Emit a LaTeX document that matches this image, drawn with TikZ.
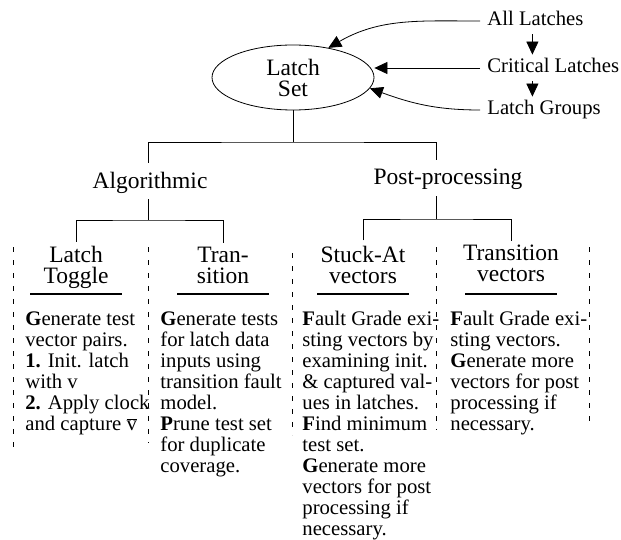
\documentclass[tikz,border=0pt]{standalone}
\usepackage{fontspec}
\setmainfont{Liberation Serif}
\usetikzlibrary{arrows.meta,shapes.geometric}
\tikzset{
  hdr/.style={font=\fontsize{23.5}{21}\selectfont, align=center, inner sep=0pt},
  lbl/.style={font=\fontsize{20.7}{21}\selectfont, anchor=base west, inner xsep=7pt, inner ysep=3pt, text height=15pt, text depth=5pt},
  body/.style={font=\fontsize{20.7}{21}\selectfont, align=left, anchor=north west, inner sep=0pt},
  tri/.style={-{Triangle[length=13pt,width=12pt]}},
  colsep/.style={dash pattern=on 5pt off 8pt},
  uline/.style={line width=2.8pt},
}

\begin{document}
\begin{tikzpicture}[x=1pt, y=-1pt, line width=0.8pt]
  \useasboundingbox (0,0) rectangle (621,540);
  \node[hdr, ellipse, draw, minimum width=162pt, minimum height=65pt] (set) at (293,77.5) {Latch\\Set};
  \node[lbl] (all)  at (480,26)  {All Latches};
  \node[lbl] (crit) at (480,73)  {Critical Latches};
  \node[lbl] (grp)  at (480,115) {Latch Groups};
  \draw[tri] (all.west) to[out=180,in=30] (set.40);
  \draw[tri] (crit.west) -- (crit.west -| set.east);
  \draw[tri] (grp.west) to[out=180,in=-20] (set.-8);
  \draw[tri] ([xshift=-3pt]all.south) -- ([xshift=-3pt]all.south |- crit.north);
  \draw[tri] ([xshift=-3pt]all.south |- crit.south) -- ([xshift=-3pt]all.south |- grp.north);
  % tree
  \node[hdr] (algo) at (150,183) {Algorithmic};
  \node[hdr] (post) at (448,179) {Post-processing};
  \coordinate (fork) at (293,142);
  \coordinate (afork) at (148,220);
  \coordinate (pfork) at (436,219);
  \draw (set) -- (fork);
  \draw ([xshift=-2pt,yshift=9pt]algo.north) |- (fork) -| ([xshift=-12pt,yshift=8pt]post.north);
  \node[hdr] (lt) at (76,267.5)  {Latch\\Toggle};
  \node[hdr] (tr) at (223,265.5) {Tran-\\sition};
  \node[hdr] (st) at (363,264.5) {Stuck-At\\vectors};
  \node[hdr] (tv) at (511,263.5) {Transition\\vectors};
  \draw ([xshift=-2pt,yshift=-5pt]algo.south) -- (afork);
  \draw ([xshift=-12pt,yshift=-6.5pt]post.south) -- (pfork);
  \draw ([yshift=4pt]lt.north) |- (afork) -| ([yshift=4pt]tr.north);
  \draw ([yshift=5pt]st.north) |- (pfork) -| ([yshift=4pt]tv.north);
  \foreach \x in {76,223,363,511}
    \draw[uline] (\x-46,294) -- (\x+46,294);
  % column separators
  \foreach \x/\y/\b in {13/247/447, 148/247/443, 292/253/435, 436/247/430, 589/247/428}
    \draw[colsep] (\x,\y) -- (\x,\b);
  % column texts
  \node[body] (ltx) at (25,311) {\textbf{G}enerate test\\vector pairs.\\\textbf{1.} Init. latch\\with v\\\textbf{2.} Apply clock\\and capture $\overline{\mbox{v}}$};
  \node[body] (trx) at (160,311) {\textbf{G}enerate tests\\for latch data\\inputs using\\transition fault\\model.\\\textbf{P}rune test set\\for duplicate\\coverage.};
  \node[body] (stx) at (302,311) {\textbf{F}ault Grade exi-\\sting vectors by\\examining init.\\\& captured val-\\ues in latches.\\\textbf{F}ind minimum\\test set.\\\textbf{G}enerate more\\vectors for post\\processing if\\necessary.};
  \node[body] (tvx) at (450,311) {\textbf{F}ault Grade exi-\\sting vectors.\\\textbf{G}enerate more\\vectors for post\\processing if\\necessary.};
\end{tikzpicture}
\end{document}
